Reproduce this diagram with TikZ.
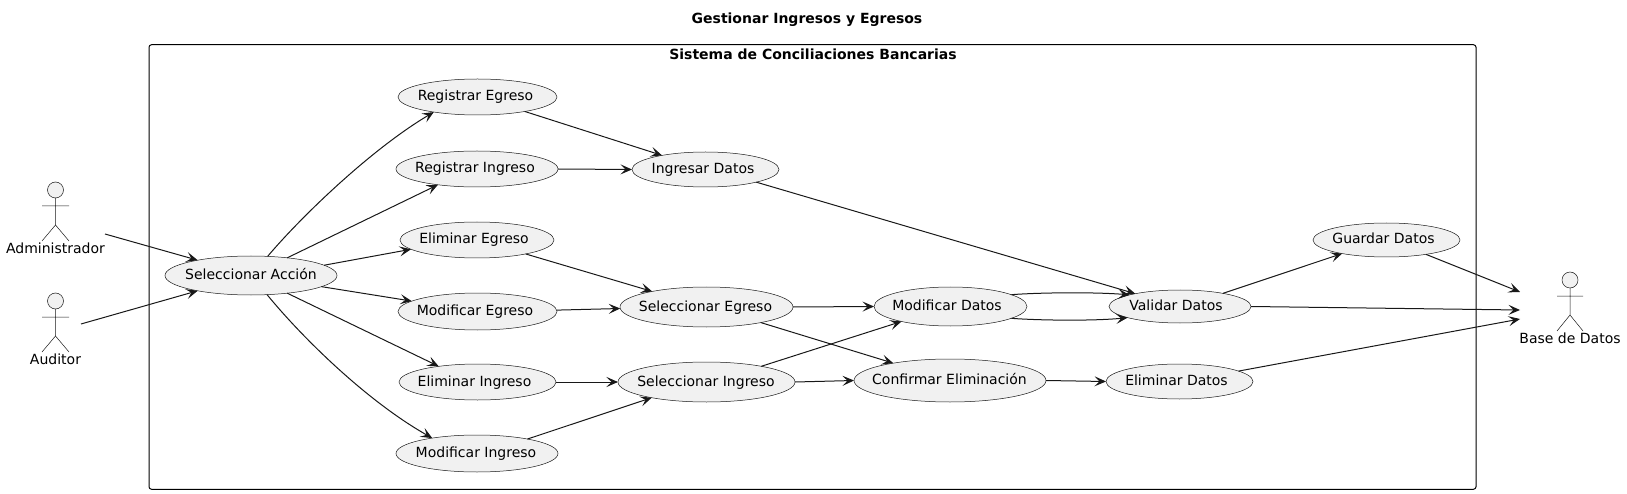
\documentclass[tikz,border=0pt]{standalone}
\usepackage{fontspec}
\setmainfont{DejaVu Sans}
\usetikzlibrary{shapes.geometric,arrows.meta}
\definecolor{ink}{HTML}{181818}
\definecolor{ucfill}{HTML}{F1F1F1}
\newcommand{\tx}[2][0]{\makebox[0pt]{\kern#1pt\kern#1pt #2}}
\tikzset{
  uc/.style n args={2}{ellipse,draw=ink,line width=.5pt,fill=ucfill,inner sep=0pt,outer sep=0pt,
    minimum width=#1pt,minimum height=#2pt,text=black,text height=11.5pt,text depth=3.5pt},
  flow/.style={draw=ink,line width=1pt,-{Stealth[length=11.5pt,width=10pt,inset=5pt]}},
  body/.style={draw=ink,line width=.5pt},
  head/.style={circle,draw=ink,line width=.5pt,fill=ucfill,inner sep=0pt,outer sep=0pt,minimum size=16pt},
  lbl/.style={inner sep=0pt,text height=10.5pt,text depth=3.5pt,text=black},
  titletext/.style={inner sep=0pt,font=\fontsize{14}{16}\selectfont\bfseries,text=black},
  system/.style={draw=black,line width=1pt,rounded corners=2.5pt}
}
\begin{document}
\begin{tikzpicture}[x=1pt,y=-1pt,font=\fontsize{14}{16}\selectfont]
\useasboundingbox (0,0) rectangle (1627,494);
\node[titletext] (title) at (807,19.5) {Gestionar Ingresos y Egresos};
\node[system,minimum width=1327pt,minimum height=444.5pt,inner sep=0pt] (sys) at (812.5,267) {};
\node[titletext] (systitle) at (813,54) {Sistema de Conciliaciones Bancarias};

% actors
\node[head] (admh) at (55.5,190) {};
\draw[body] (admh.south) -- (55.5,225) -- (42,241) (55.5,225) -- (69,241) (42,206) -- (69,206);
\node[lbl] (adm) at (55.5,250) {Administrador};
\node[head] (audh) at (55.5,301) {};
\draw[body] (audh.south) -- (55.5,336) -- (42,352) (55.5,336) -- (69,352) (42,317) -- (69,317);
\node[lbl] (aud) at (55.5,361) {Auditor};
\node[head] (dbh) at (1570,280) {};
\draw[body] (dbh.south) -- (1570,315) -- (1557,331) (1570,315) -- (1583,331) (1557,296) -- (1583,296);
\node[lbl] (db) at (1570,340) {Base de Datos};

\coordinate (admout) at (105,234);
\coordinate (audout) at (81,324);
\coordinate (dbin1) at (1520,292);
\coordinate (dbin2) at (1520,310);
\coordinate (dbin3) at (1520,319);

% use cases
\node[uc={172}{39}] (sel) at (251,275.5) {\tx{Seleccionar Acción}};
\node[uc={159}{36}] (rege) at (477.5,97) {\tx[-2]{Registrar Egreso}};
\node[uc={162}{36}] (regi) at (477,169) {\tx[-2]{Registrar Ingreso}};
\node[uc={154}{36}] (elie) at (477,240) {\tx[-3]{Eliminar Egreso}};
\node[uc={159}{37}] (mode) at (477.5,311.5) {\tx[-2.5]{Modificar Egreso}};
\node[uc={157}{36}] (elii) at (477.5,382) {\tx[-3]{Eliminar Ingreso}};
\node[uc={162}{37}] (modi) at (477,453.5) {\tx[-1]{Modificar Ingreso}};
\node[uc={147}{35}] (ing) at (705.5,169.5) {\tx[-2.5]{Ingresar Datos}};
\node[uc={173}{40}] (sele) at (706.5,307) {\tx[-1]{Seleccionar Egreso}};
\node[uc={177}{40}] (seli) at (706.5,382) {\tx[-.5]{Seleccionar Ingreso}};
\node[uc={153}{39}] (modd) at (950.5,306.5) {\tx[-3.5]{Modificar Datos}};
\node[uc={192}{43}] (conf) at (950,380.5) {\tx[-.5]{Confirmar Eliminación}};
\node[uc={142}{33}] (val) at (1180,306.5) {\tx[-4]{Validar Datos}};
\node[uc={147}{35}] (elid) at (1179.5,381.5) {\tx[-3]{Eliminar Datos}};
\node[uc={147}{34}] (gua) at (1386.5,240) {\tx[-3]{Guardar Datos}};

% connectors
\draw[flow] (admout) -- (sel.164.7);
\draw[flow] (audout) -- (sel.196);
\draw[flow] (sel.49) .. controls (300,218) and (370,150) .. (rege.199.2);
\draw[flow] (sel.26) -- (regi.202.8);
\draw[flow] (sel.8.2) -- (elie.188.9);
\draw[flow] (sel.-9) -- (mode.171.7);
\draw[flow] (sel.-26) -- (elii.158.2);
\draw[flow] (sel.-50.6) .. controls (300,335) and (365,400) .. (modi.161);
\draw[flow] (rege.-17.3) -- (ing.162.3);
\draw[flow] (regi.0) -- (ing.180.5);
\draw[flow] (ing.-14.6) -- (val.164.5);
\draw[flow] (elie.-16) -- (sele.164.5);
\draw[flow] (mode.1.8) -- (sele.181.1);
\draw[flow] (sele.0) -- (modd.180.4);
\draw[flow] (sele.-16) -- (conf.163);
\draw[flow] (elii.0) -- (seli.180);
\draw[flow] (modi.16.5) -- (seli.196.5);
\draw[flow] (seli.16.4) -- (modd.197.1);
\draw[flow] (seli.0.9) -- (conf.180.5);
\draw[flow] (conf.-0.8) -- (elid.180);
\draw[flow] (modd.11.1) .. controls (1040,292.5) and (1095,292) .. (val.167.3);
\draw[flow] (modd.-11.6) .. controls (1040,320.5) and (1095,321) .. (val.192.1);
\draw[flow] (val.17.8) -- (gua.197.8);
\draw[flow] (val.-0.4) -- (dbin2);
\draw[flow] (gua.-20) -- (dbin1);
\draw[flow] (elid.10.3) -- (dbin3);
\end{tikzpicture}
\end{document}
